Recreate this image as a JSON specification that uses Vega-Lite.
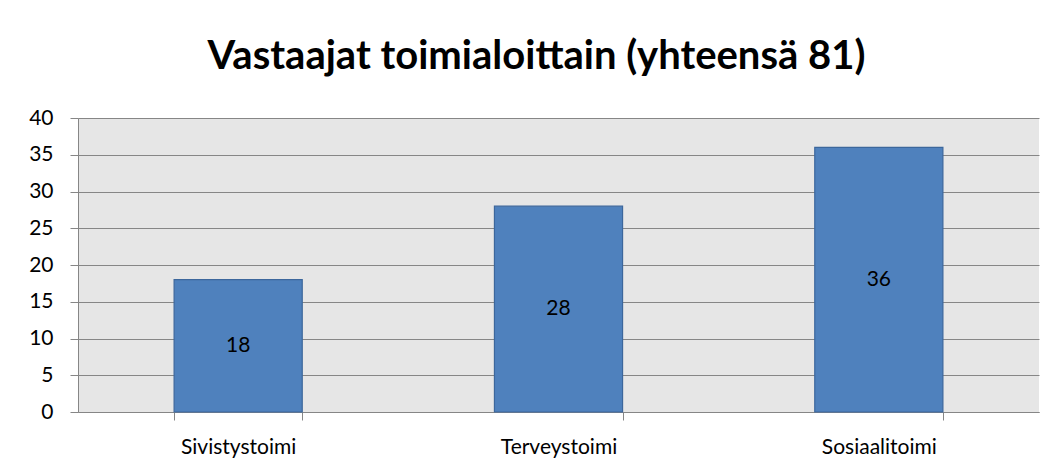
{
  "$schema": "https://vega.github.io/schema/vega-lite/v6.json",
  "width": 961,
  "height": 294,
  "autosize": {"type": "none"},
  "padding": {"left": 78, "top": 118, "right": 17, "bottom": 61},
  "background": "white",
  "title": {
    "text": "Vastaajat toimialoittain (yhteensä 81)",
    "font": "Lato",
    "fontSize": 40,
    "fontWeight": "bold",
    "color": "black",
    "anchor": "middle",
    "offset": 30,
    "dx": -22
  },
  "data": {
    "values": [
      {"toimiala": "Sivistystoimi", "vastaajat": 18},
      {"toimiala": "Terveystoimi", "vastaajat": 28},
      {"toimiala": "Sosiaalitoimi", "vastaajat": 36}
    ]
  },
  "config": {
    "view": {"fill": "#E6E6E6", "stroke": null},
    "font": "Lato"
  },
  "resolve": {"axis": {"y": "independent"}},
  "encoding": {
    "x": {
      "field": "toimiala",
      "type": "nominal",
      "sort": null,
      "scale": {"paddingInner": 0.6, "paddingOuter": 0.3},
      "axis": {
        "title": null,
        "labelAngle": 0,
        "labelFont": "Lato",
        "labelFontSize": 21,
        "labelColor": "black",
        "labelPadding": 16,
        "tickBand": "extent",
        "tickSize": 8,
        "tickColor": "#868686",
        "domainColor": "#868686",
        "grid": false
      }
    }
  },
  "layer": [
    {
      "mark": {"type": "bar", "color": "#4F81BD", "stroke": "#3C679C", "strokeWidth": 1.2},
      "encoding": {
        "y": {
          "field": "vastaajat",
          "type": "quantitative",
          "scale": {"domain": [0, 40], "nice": false},
          "axis": {
            "title": null,
            "values": [0, 5, 10, 15, 20, 25, 30, 35, 40],
            "labelOverlap": false,
            "labelFont": "Lato",
            "labelFontSize": 21,
            "labelColor": "black",
            "labelPadding": 17,
            "tickSize": 8,
            "tickColor": "#868686",
            "domainColor": "#868686",
            "gridColor": "#868686",
            "gridWidth": 1,
            "zindex": 0
          }
        }
      }
    },
    {
      "transform": [{"calculate": "datum.vastaajat / 2", "as": "keski"}],
      "mark": {"type": "text", "font": "Lato", "fontSize": 21, "color": "black", "baseline": "middle"},
      "encoding": {
        "y": {"field": "keski", "type": "quantitative", "axis": null},
        "text": {"field": "vastaajat", "type": "quantitative"}
      }
    }
  ]
}
